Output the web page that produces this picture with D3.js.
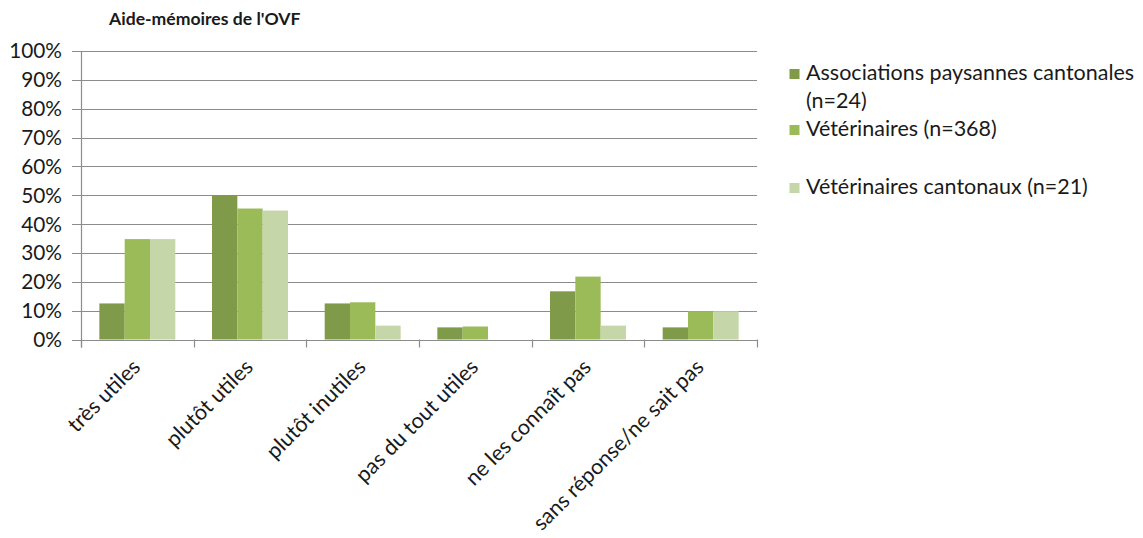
<!DOCTYPE html>
<html>
<head>
<meta charset="utf-8">
<script src="https://cdn.jsdelivr.net/npm/d3@7/dist/d3.min.js"></script>
<style>
  html, body { margin: 0; padding: 0; background: #ffffff; }
  svg { display: block; }
  text { font-family: Lato, "Open Sans", sans-serif; fill: #1a1a1a; }
</style>
</head>
<body>
<svg id="chart" width="1143" height="538"></svg>
<script>
// Response categories
const categories = [
  "très utiles",
  "plutôt utiles",
  "plutôt inutiles",
  "pas du tout utiles",
  "ne les connaît pas",
  "sans réponse/ne sait pas"
];

// Share of answers per group (fractions)
const associations = [0.125, 0.50, 0.125, 0.042, 0.167, 0.042];
const veterinaires = [0.348, 0.454, 0.129, 0.045, 0.218, 0.098];
const vetCantonaux = [0.348, 0.447, 0.048, 0.0, 0.048, 0.098];

const seriesNames = [
  "Associations paysannes cantonales (n=24)",
  "Vétérinaires (n=368)",
  "Vétérinaires cantonaux (n=21)"
];
const seriesColors = ["#7f9a48", "#9bbb59", "#c5d6a9"];

const yTicks = [0, 0.1, 0.2, 0.3, 0.4, 0.5, 0.6, 0.7, 0.8, 0.9, 1.0];

const series = [associations, veterinaires, vetCantonaux].map((values, i) => ({
  name: seriesNames[i], color: seriesColors[i], values
}));

const svg = d3.select("#chart");

const plot = { left: 81, right: 757, top: 51, bottom: 339.5 };

const x = d3.scaleBand().domain(categories).range([plot.left, plot.right]).paddingInner(0).paddingOuter(0);
const xInner = d3.scaleBand().domain(d3.range(series.length))
  .range([0, x.bandwidth()]).paddingOuter(0.725).paddingInner(0);
const y = d3.scaleLinear().domain([0, 1]).range([plot.bottom, plot.top]);

const gridColor = "#8c8c8c";

// Title
svg.append("text")
  .attr("x", 109).attr("y", 25)
  .style("font-size", "17.6px").style("font-weight", "bold")
  .text("Aide-mémoires de l'OVF");

// Horizontal gridlines (extending left as tick marks)
svg.append("g").selectAll("line").data(yTicks).join("line")
  .attr("x1", plot.left - 9).attr("x2", plot.right)
  .attr("y1", d => Math.round(y(d)) + 0.5).attr("y2", d => Math.round(y(d)) + 0.5)
  .attr("stroke", gridColor).attr("stroke-width", 1.2);

// Y axis labels
const fmt = d3.format(".0%");
svg.append("g").selectAll("text").data(yTicks).join("text")
  .attr("x", 62).attr("y", d => y(d))
  .attr("dy", "0.36em")
  .attr("text-anchor", "end")
  .style("font-size", "20.8px")
  .text(d => fmt(d));

// Bars
const groups = svg.append("g").selectAll("g").data(series).join("g")
  .attr("fill", d => d.color);
groups.each(function (s, si) {
  d3.select(this).selectAll("rect").data(s.values).join("rect")
    .attr("x", (d, i) => x(categories[i]) + xInner(si))
    .attr("width", xInner.bandwidth())
    .attr("y", d => y(d))
    .attr("height", d => y(0) - y(d));
});

// Y axis line
svg.append("line")
  .attr("x1", plot.left + 0.5).attr("x2", plot.left + 0.5)
  .attr("y1", plot.top).attr("y2", plot.bottom + 8)
  .attr("stroke", gridColor).attr("stroke-width", 1.2);

// X axis line
svg.append("line")
  .attr("x1", plot.left - 9).attr("x2", plot.right)
  .attr("y1", Math.round(y(0)) + 0.5).attr("y2", Math.round(y(0)) + 0.5)
  .attr("stroke", gridColor).attr("stroke-width", 1.2);

// Category separators below the axis
const boundaries = categories.map(c => x(c)).concat([plot.right]);
svg.append("g").selectAll("line").data(boundaries).join("line")
  .attr("x1", d => Math.round(d) + 0.5).attr("x2", d => Math.round(d) + 0.5)
  .attr("y1", plot.bottom).attr("y2", plot.bottom + 8)
  .attr("stroke", gridColor).attr("stroke-width", 1.2);

// Category labels, rotated
svg.append("g").selectAll("text").data(categories).join("text")
  .attr("transform", d => `translate(${x(d) + x.bandwidth() / 2 - 1},363) rotate(-45)`)
  .attr("dy", "0.35em")
  .attr("text-anchor", "end")
  .style("font-size", "21.5px")
  .text(d => d);

// Legend
const legendRows = [
  { lines: ["Associations paysannes cantonales", "(n=24)"], y: 72 },
  { lines: ["Vétérinaires (n=368)"], y: 128 },
  { lines: ["Vétérinaires cantonaux (n=21)"], y: 186 }
];
const legend = svg.append("g");
legendRows.forEach((row, i) => {
  legend.append("rect")
    .attr("x", 789.5).attr("y", row.y - 3)
    .attr("width", 10).attr("height", 10)
    .attr("fill", seriesColors[i]);
  const t = legend.append("text")
    .attr("x", 806).attr("y", row.y)
    .style("font-size", "21.5px");
  row.lines.forEach((ln, j) => {
    t.append("tspan").attr("x", 806).attr("dy", j === 0 ? "0.36em" : "28px").text(ln);
  });
});
</script>
</body>
</html>
